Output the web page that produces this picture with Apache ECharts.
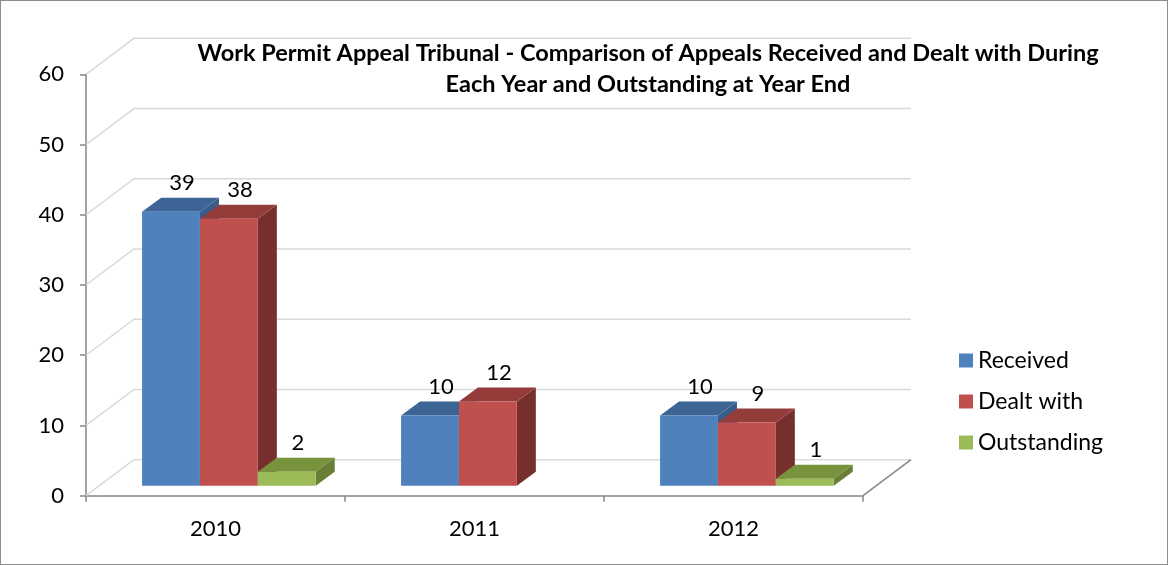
<!DOCTYPE html>
<html>
<head>
<meta charset="utf-8">
<script src="https://cdn.jsdelivr.net/npm/echarts@6/dist/echarts.min.js"></script>
<style>
html,body{margin:0;padding:0;background:#fff;}
#chart{width:1166px;height:563px;border:1px solid #8c8c8c;}
</style>
</head>
<body>
<div id="chart"></div>
<script>
// 数据
var years = ['2010', '2011', '2012'];
var received = [39, 10, 10];
var dealtWith = [38, 12, 9];
var outstanding = [2, null, 1];
var yTicks = [0, 10, 20, 30, 40, 50, 60];

var seriesNames = ['Received', 'Dealt with', 'Outstanding'];
var seriesData = [received, dealtWith, outstanding];
// 正面/顶面/侧面颜色
var colors = [
  ['#4F81BD', '#3C6494', '#385D8A'],
  ['#C0504D', '#943C3A', '#772F2D'],
  ['#9BBB59', '#77933C', '#687F35']
];

// 3D 偏移
var wallDx = 48, wallDy = -36;   // 背墙偏移
var faceDx = 13.4, faceDy = -10; // 柱子正面所在深度
var barDx = 19, barDy = -14;     // 柱子自身厚度
var barRatio = 0.2235;

var myChart = echarts.init(document.getElementById('chart'));

var series = [];
// 背墙网格线 + 斜线
series.push({
  type: 'custom',
  silent: true,
  z: 1,
  data: yTicks.map(function (v) { return [0, v]; }),
  renderItem: function (params, api) {
    var cs = params.coordSys;
    var y = api.coord([0, api.value(1)])[1];
    var children = [{
      type: 'polyline',
      shape: { points: [[cs.x, y], [cs.x + wallDx, y + wallDy], [cs.x + cs.width + wallDx, y + wallDy]] },
      style: { stroke: '#D9D9D9', lineWidth: 1.5, fill: null }
    }];
    if (api.value(1) === 0) {
      children.push({
        type: 'line',
        shape: { x1: cs.x + cs.width, y1: y, x2: cs.x + cs.width + wallDx, y2: y + wallDy },
        style: { stroke: '#868686', lineWidth: 1.5 }
      });
    }
    return { type: 'group', children: children };
  }
});

seriesData.forEach(function (arr, si) {
  series.push({
    type: 'custom',
    name: seriesNames[si],
    z: 3 + si,
    itemStyle: { color: colors[si][0] },
    data: arr.map(function (v, i) { return [i, v]; }),
    encode: { x: 0, y: 1 },
    renderItem: function (params, api) {
      var val = api.value(1);
      if (val == null || isNaN(val)) return;
      var cat = api.value(0);
      var top = api.coord([cat, val]);
      var base = api.coord([cat, 0]);
      var bw = api.size([1, 0])[0] * barRatio;
      var x0 = top[0] + (si - 1.5) * bw + faceDx;
      var x1 = x0 + bw;
      var yt = top[1] + faceDy;
      var yb = base[1] + faceDy;
      return {
        type: 'group',
        children: [
          { type: 'polygon', shape: { points: [[x1, yt], [x1 + barDx, yt + barDy], [x1 + barDx, yb + barDy], [x1, yb]] },
            style: { fill: colors[si][2] } },
          { type: 'polygon', shape: { points: [[x0, yt], [x1, yt], [x1 + barDx, yt + barDy], [x0 + barDx, yt + barDy]] },
            style: { fill: colors[si][1] } },
          { type: 'rect', shape: { x: x0, y: yt, width: bw, height: yb - yt },
            style: { fill: colors[si][0] } },
          { type: 'text', x: (x0 + x1) / 2 + 11, y: yt + barDy - 15,
            style: { text: String(val), fill: '#000', font: '22px Lato', align: 'center', verticalAlign: 'middle' } }
        ]
      };
    }
  });
});

var option = {
  animation: false,
  title: {
    text: 'Work Permit Appeal Tribunal - Comparison of Appeals Received and Dealt with During\nEach Year and Outstanding at Year End',
    left: 642,
    top: 32,
    textAlign: 'center',
    textStyle: { fontFamily: 'Lato', fontWeight: 'bold', fontSize: 23.5, lineHeight: 31, color: '#000' }
  },
  legend: {
    orient: 'vertical',
    left: 953,
    top: 343,
    itemWidth: 14,
    itemHeight: 14,
    itemGap: 18,
    itemStyle: { borderWidth: 0 },
    icon: 'rect',
    data: seriesNames,
    textStyle: { fontFamily: 'Lato', fontSize: 23, lineHeight: 23, color: '#000' }
  },
  grid: {
    left: 85,
    right: 304,
    top: 73.3,
    bottom: 68.3,
    outerBoundsMode: 'none'
  },
  xAxis: {
    type: 'category',
    data: years,
    axisLine: { lineStyle: { color: '#868686', width: 1.5 } },
    axisTick: { show: true, length: 6, lineStyle: { color: '#868686', width: 1.5 } },
    axisLabel: { margin: 22, fontFamily: 'Lato', fontSize: 22, color: '#000' },
    splitLine: { show: false }
  },
  yAxis: {
    type: 'value',
    min: 0,
    max: 60,
    interval: 10,
    axisLine: { show: true, lineStyle: { color: '#868686', width: 1.5 } },
    axisTick: { show: true, length: 6, lineStyle: { color: '#868686', width: 1.5 } },
    axisLabel: { margin: 22, fontFamily: 'Lato', fontSize: 22, color: '#000' },
    splitLine: { show: false }
  },
  series: series
};
myChart.setOption(option);
</script>
</body>
</html>
